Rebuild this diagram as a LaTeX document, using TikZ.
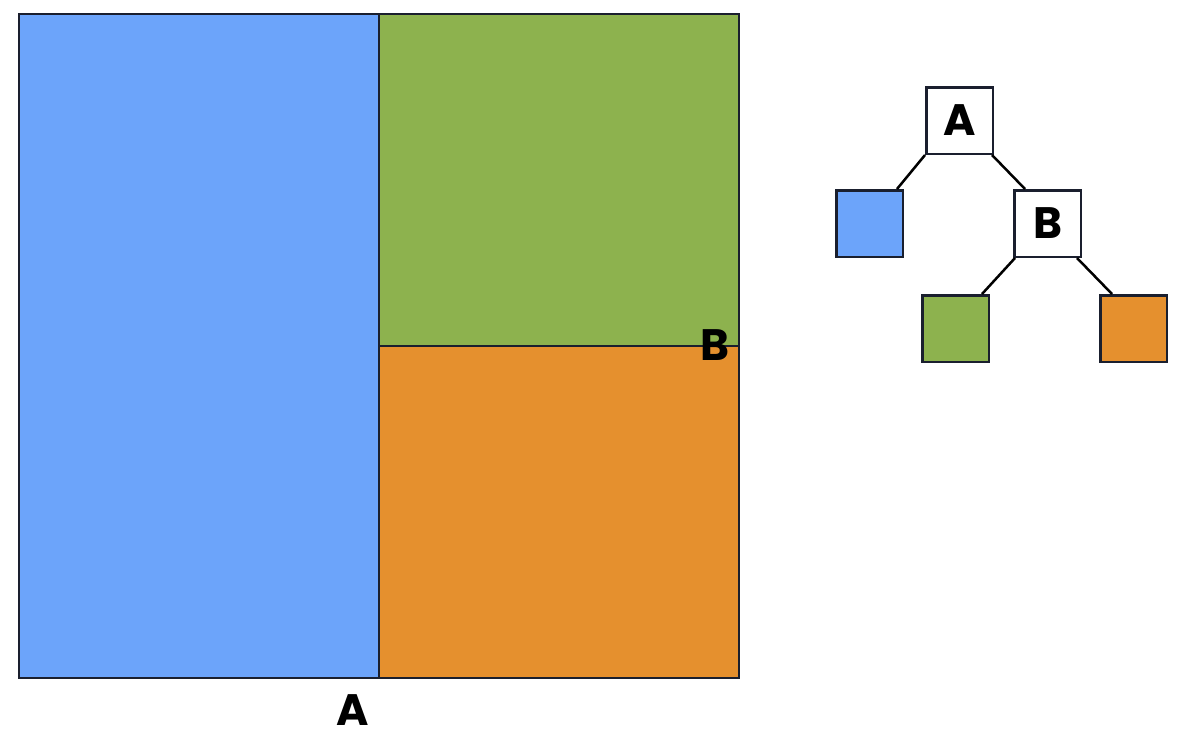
\documentclass[tikz,border=0pt]{standalone}
\usepackage{fontspec}
\setmainfont{Poppins}
\usetikzlibrary{calc}
\definecolor{cblue}{HTML}{6CA4FA}
\definecolor{cgreen}{HTML}{8DB24E}
\definecolor{corange}{HTML}{E5902E}
\definecolor{cedge}{HTML}{1A1F2E}
\tikzset{
  region/.style={draw=cedge, line width=1.8pt},
  tbox/.style={draw=cedge, line width=2.5pt, minimum width=66.5pt, minimum height=66.5pt, inner sep=0pt, fill=white, font=\fontsize{44}{44}\selectfont\bfseries},
  leaf/.style={tbox},
  lbl/.style={font=\fontsize{44}{44}\selectfont\bfseries, inner sep=0pt},
  branch/.style={draw=black, line width=2.5pt}
}
\begin{document}
\begin{tikzpicture}[x=1pt,y=-1pt]
\useasboundingbox (0,0) rectangle (1183,739);
% partition
\filldraw[region, fill=cblue] (19,14) rectangle (379,678);
\filldraw[region, fill=cgreen] (379,14) rectangle (739,346);
\filldraw[region, fill=corange] (379,346) rectangle (739,678);
\node[lbl] (la) at (353,710) {A};
\node[lbl] (lb) at (715,345) {B};
% tree
\node[tbox] (A) at (959.5,120.5) {A};
\node[leaf, fill=cblue] (L1) at (869.5,223.5) {};
\node[tbox] (B) at (1047.5,223.5) {B};
\node[leaf, fill=cgreen] (L2) at (955.5,328.5) {};
\node[leaf, fill=corange] (L3) at (1133.5,328.5) {};
\draw[branch] (A.south west) -- ([xshift=-7pt]L1.north east);
\draw[branch] ([xshift=-2pt]A.south east) -- ([xshift=12pt]B.north west);
\draw[branch] ([xshift=2pt]B.south west) -- ([xshift=-8pt]L2.north east);
\draw[branch] ([xshift=-5pt]B.south east) -- ([xshift=13pt]L3.north west);
\end{tikzpicture}
\end{document}
